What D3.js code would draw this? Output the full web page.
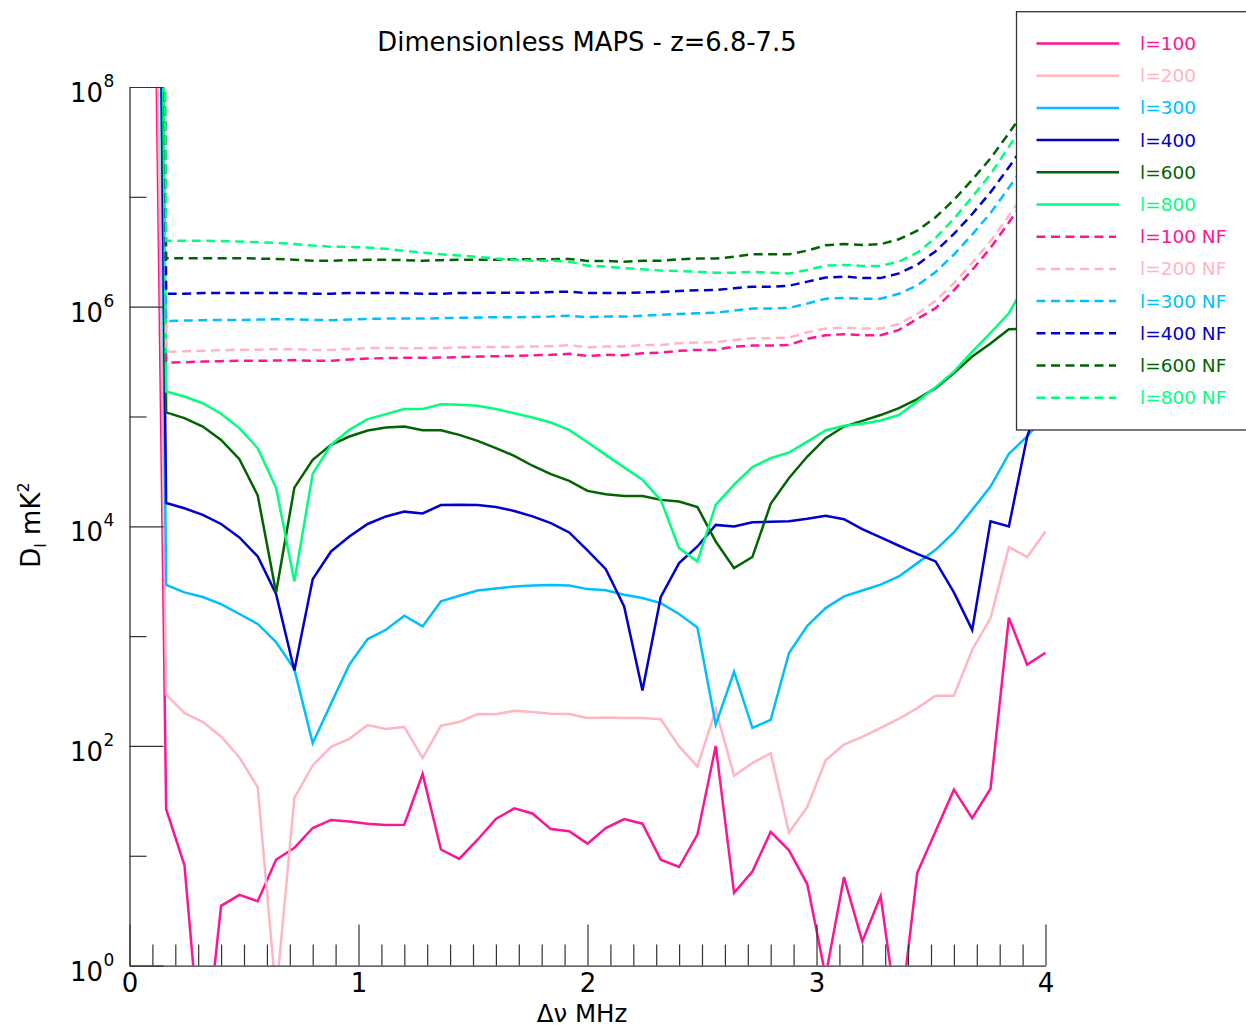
<!DOCTYPE html>
<html>
<head>
<meta charset="utf-8">
<script src="https://cdn.jsdelivr.net/npm/d3@7"></script>
<style>
  html, body { margin: 0; padding: 0; background: #fff; }
  svg { display: block; font-family: "DejaVu Sans", sans-serif; }
</style>
</head>
<body>
<svg id="chart" width="1246" height="1028"></svg>
<script>
// ---------------- DATA ----------------
const freqMHz = [0.08,0.16,0.24,0.32,0.40,0.48,0.56,0.64,0.72,0.80,0.88,0.96,1.04,1.12,1.20,1.28,1.36,1.44,1.52,1.60,
  1.68,1.76,1.84,1.92,2.00,2.08,2.16,2.24,2.32,2.40,2.48,2.56,2.64,2.72,2.80,2.88,2.96,3.04,3.12,3.20,
  3.28,3.36,3.44,3.52,3.60,3.68,3.76,3.84,3.92,4.00];

const l100 = [2e14,26.7,8.2,0.1,3.5,4.4,3.85,9.2,11.8,17.9,21.2,20.5,19.6,19.1,19.2,55.6,11.4,9.35,14.0,21.6,
  27.0,24.3,17.5,16.7,12.9,17.9,21.6,19.6,9.2,7.9,15.6,100,4.6,7.2,16.5,11.2,5.5,0.8,6.4,1.66,
  4.3,0.27,7.0,16.7,40,22,40.8,1470,550,706];
const l200 = [1e15,293,200,165,122,78.7,42,0.54,33.6,66.5,98,116,155,143,149,77.6,153,165,195,194,
  209,204,196,195,180,182,180,180,175,99,65,214,53.6,70,86,16.3,27.8,74,103,121,
  146,177,221,287,287,752,1460,6470,5250,8970];
const l300 = [1e20,2920,2500,2270,1960,1590,1290,883,501,106,243,549,940,1143,1532,1225,2070,2330,2600,2720,
  2830,2890,2920,2890,2680,2620,2380,2220,2000,1590,1200,156,474,146,173,702,1243,1800,2300,2600,
  2940,3490,4620,6110,8790,14100,23000,45700,65700,103000];
const l400 = [4e19,16300,14600,12700,10500,7910,5310,2420,487,3300,5900,8070,10500,12300,13600,13100,15600,15700,15600,15000,
  13800,12300,10700,8790,6030,4070,1860,320,2270,4620,6550,10300,9950,10900,11000,11100,11700,12500,11600,9430,
  7910,6650,5620,4790,2500,1140,11100,9960,65700,200000];
const l600 = [1e23,109000,96600,81000,61200,40800,19100,2500,22500,40300,55200,65700,74500,79300,81000,75000,75000,68000,60000,51500,
  43800,35600,29900,25900,21000,19600,18900,18900,17400,16800,15000,7270,4160,5250,16000,27500,43200,63400,81000,91200,
  103000,119000,144000,181000,248000,351000,461000,624000,630000,700000];
const l800 = [1e23,169000,152000,132000,106000,78300,51500,22500,3150,30100,55200,75500,94600,105000,117000,117000,129000,128000,125000,117000,
  107000,97700,88100,75500,58200,44700,34400,26500,17400,6330,4790,15700,23900,34600,41800,47000,59100,74500,82200,85700,
  91800,103000,137000,185000,256000,390000,577000,871000,1700000,3300000];

const l100NF = [1e30,3.10e5,3.12e5,3.16e5,3.19e5,3.21e5,3.21e5,3.23e5,3.26e5,3.21e5,3.21e5,3.30e5,3.37e5,3.40e5,3.42e5,3.42e5,3.44e5,3.47e5,3.51e5,3.54e5,
  3.56e5,3.61e5,3.64e5,3.72e5,3.56e5,3.64e5,3.61e5,3.77e5,3.82e5,3.96e5,4.04e5,4.04e5,4.33e5,4.42e5,4.42e5,4.48e5,5.09e5,5.50e5,5.61e5,5.50e5,
  5.50e5,6.14e5,7.74e5,9.68e5,1.41e6,2.16e6,3.43e6,5.83e6,1.02e7,1.79e7];
const l200NF = [1e30,3.87e5,3.93e5,3.96e5,4.01e5,4.04e5,4.06e5,4.10e5,4.10e5,4.04e5,4.04e5,4.12e5,4.19e5,4.21e5,4.19e5,4.19e5,4.21e5,4.24e5,4.27e5,4.30e5,
  4.30e5,4.33e5,4.36e5,4.46e5,4.27e5,4.33e5,4.33e5,4.46e5,4.48e5,4.65e5,4.71e5,4.75e5,4.98e5,5.16e5,5.16e5,5.23e5,5.85e5,6.31e5,6.44e5,6.31e5,
  6.31e5,6.96e5,8.59e5,1.13e6,1.64e6,2.50e6,3.96e6,6.73e6,1.17e7,2.08e7];
const l300NF = [1e30,7.38e5,7.47e5,7.53e5,7.57e5,7.57e5,7.62e5,7.69e5,7.69e5,7.57e5,7.53e5,7.62e5,7.74e5,7.79e5,7.79e5,7.79e5,7.85e5,7.91e5,7.95e5,8.02e5,
  8.02e5,8.07e5,8.12e5,8.28e5,8.02e5,8.12e5,8.12e5,8.28e5,8.41e5,8.59e5,8.71e5,8.83e5,9.20e5,9.60e5,9.60e5,9.75e5,1.07e6,1.18e6,1.20e6,1.18e6,
  1.18e6,1.31e6,1.56e6,2.07e6,2.98e6,4.53e6,7.13e6,1.21e7,2.09e7,3.68e7];
const l400NF = [1e30,1.31e6,1.31e6,1.33e6,1.33e6,1.33e6,1.33e6,1.33e6,1.33e6,1.31e6,1.31e6,1.33e6,1.33e6,1.33e6,1.33e6,1.31e6,1.31e6,1.33e6,1.33e6,1.34e6,
  1.34e6,1.34e6,1.36e6,1.37e6,1.33e6,1.33e6,1.33e6,1.35e6,1.36e6,1.39e6,1.41e6,1.42e6,1.47e6,1.52e6,1.52e6,1.55e6,1.69e6,1.84e6,1.88e6,1.82e6,
  1.82e6,2.01e6,2.41e6,3.20e6,4.59e6,6.98e6,1.10e7,1.86e7,3.22e7,5.68e7];
const l600NF = [1e30,2.76e6,2.76e6,2.76e6,2.76e6,2.76e6,2.74e6,2.72e6,2.68e6,2.62e6,2.62e6,2.65e6,2.67e6,2.67e6,2.65e6,2.62e6,2.65e6,2.67e6,2.67e6,2.68e6,
  2.70e6,2.70e6,2.70e6,2.72e6,2.61e6,2.61e6,2.57e6,2.62e6,2.62e6,2.70e6,2.74e6,2.74e6,2.85e6,3.00e6,3.00e6,3.00e6,3.24e6,3.62e6,3.72e6,3.65e6,
  3.70e6,4.11e6,4.92e6,6.52e6,9.37e6,1.43e7,2.24e7,3.79e7,6.58e7,1.16e8];
const l800NF = [1e30,3.99e6,3.99e6,3.99e6,3.96e6,3.91e6,3.86e6,3.80e6,3.72e6,3.60e6,3.52e6,3.50e6,3.45e6,3.36e6,3.22e6,3.10e6,3.00e6,2.92e6,2.84e6,2.74e6,
  2.67e6,2.62e6,2.62e6,2.57e6,2.36e6,2.32e6,2.24e6,2.19e6,2.13e6,2.11e6,2.08e6,2.04e6,2.04e6,2.07e6,2.04e6,2.00e6,2.16e6,2.36e6,2.40e6,2.35e6,
  2.35e6,2.57e6,3.10e6,4.23e6,6.30e6,9.98e6,1.61e7,2.84e7,5.24e7,9.61e7];

const seriesNames = ["l=100","l=200","l=300","l=400","l=600","l=800",
                     "l=100 NF","l=200 NF","l=300 NF","l=400 NF","l=600 NF","l=800 NF"];
const seriesValues = [l100,l200,l300,l400,l600,l800,l100NF,l200NF,l300NF,l400NF,l600NF,l800NF];
const seriesColors = ["#ff1493","#ffb6c1","#00bfff","#0000cd","#006400","#00ff7f",
                      "#ff1493","#ffb6c1","#00bfff","#0000cd","#006400","#00ff7f"];
const seriesDashed = [false,false,false,false,false,false,true,true,true,true,true,true];

const xMajorTicks = [0,1,2,3,4];
const xMinorTicks = [0.1,0.2,0.3,0.4,0.5,0.6,0.7,0.8,0.9,1.1,1.2,1.3,1.4,1.5,1.6,1.7,1.8,1.9,
  2.1,2.2,2.3,2.4,2.5,2.6,2.7,2.8,2.9,3.1,3.2,3.3,3.4,3.5,3.6,3.7,3.8,3.9];
const yMajorTicks = [1,1e2,1e4,1e6,1e8];
const yMajorExp = ["0","2","4","6","8"];
const yMinorTicks = [1e1,1e3,1e5,1e7];

const titleText = "Dimensionless MAPS - z=6.8-7.5";

// ---------------- LAYOUT ----------------
const svg = d3.select("#chart");
const X0 = 129.5, X1 = 1045.5, YB = 965.6, YT = 87;
const x = d3.scaleLinear().domain([0,4]).range([X0, X1]);
const y = d3.scaleLog().domain([1,1e8]).range([YB, YT]);
const axisColor = "#333";

svg.append("defs").append("clipPath").attr("id","plotclip")
  .append("rect").attr("x", X0).attr("y", YT).attr("width", X1 - X0 + 2).attr("height", YB - YT);

// title
svg.append("text").attr("x", 587).attr("y", 51).attr("text-anchor","middle")
  .attr("font-size", 25.8).attr("fill","#000").text(titleText);

// lines
const line = d3.line().x((d,i) => x(freqMHz[i])).y(d => y(d));
const gLines = svg.append("g").attr("clip-path","url(#plotclip)");
seriesValues.forEach((vals, si) => {
  gLines.append("path").datum(vals)
    .attr("d", line)
    .attr("fill","none")
    .attr("stroke", seriesColors[si])
    .attr("stroke-width", 2.5)
    .attr("stroke-linejoin","miter")
    .attr("stroke-dasharray", seriesDashed[si] ? "9,5.5" : null);
});

// axes
function styleAxis(g){
  g.selectAll("path.domain").attr("stroke", axisColor).attr("stroke-width", 1.3);
  g.selectAll(".tick line").attr("stroke", axisColor).attr("stroke-width", 1.2);
}
// y axis
const gyMajor = svg.append("g").attr("transform", `translate(${X0},0)`)
  .call(d3.axisLeft(y).tickValues(yMajorTicks).tickSizeInner(-34).tickSizeOuter(0).tickFormat(""));
styleAxis(gyMajor);
const gyMinor = svg.append("g").attr("transform", `translate(${X0},0)`)
  .call(d3.axisLeft(y).tickValues(yMinorTicks).tickSizeInner(-17).tickSizeOuter(0).tickFormat(""));
styleAxis(gyMinor);
gyMinor.select("path.domain").remove();

// y tick labels 10^n
yMajorTicks.forEach((v, i) => {
  const yy = y(v);
  svg.append("text").attr("x", 103).attr("y", yy + 15).attr("text-anchor","end")
    .attr("font-size", 26).attr("fill","#000").text("10");
  svg.append("text").attr("x", 103.5).attr("y", yy).attr("text-anchor","start")
    .attr("font-size", 17).attr("fill","#000").text(yMajorExp[i]);
});

// x axis
const gxMajor = svg.append("g").attr("transform", `translate(0,${YB})`)
  .call(d3.axisBottom(x).tickValues(xMajorTicks).tickSizeInner(-41).tickSizeOuter(0).tickPadding(8)
    .tickFormat(d3.format("d")));
styleAxis(gxMajor);
gxMajor.selectAll("text").attr("font-size", 26).attr("fill","#000")
  .attr("font-family","DejaVu Sans, sans-serif");
const gxMinor = svg.append("g").attr("transform", `translate(0,${YB})`)
  .call(d3.axisBottom(x).tickValues(xMinorTicks).tickSizeInner(-21).tickSizeOuter(0).tickFormat(""));
styleAxis(gxMinor);
gxMinor.select("path.domain").remove();

// x axis label
svg.append("text").attr("x", 582).attr("y", 1022).attr("text-anchor","middle")
  .attr("font-size", 24.5).attr("fill","#000").text("Δν MHz");

// y axis label
const yl = svg.append("text").attr("transform","translate(40,525) rotate(-90)")
  .attr("text-anchor","middle").attr("font-size", 26).attr("fill","#000");
yl.append("tspan").text("D");
yl.append("tspan").attr("font-size", 16).attr("dy", 6).text("l");
yl.append("tspan").attr("dy", -6).text(" mK");
yl.append("tspan").attr("font-size", 16).attr("dy", -11).text("2");

// legend
const legend = svg.append("g");
legend.append("rect").attr("x", 1016.5).attr("y", 11.7).attr("width", 240).attr("height", 418.3)
  .attr("fill","#fff").attr("stroke","#333").attr("stroke-width", 1.3);
seriesNames.forEach((name, i) => {
  const ly = 43.5 + i * 32.2;
  legend.append("line").attr("x1", 1036.5).attr("x2", seriesDashed[i] ? 1116 : 1119)
    .attr("y1", ly).attr("y2", ly)
    .attr("stroke", seriesColors[i]).attr("stroke-width", 2.5)
    .attr("stroke-dasharray", seriesDashed[i] ? "9,5.5" : null);
  legend.append("text").attr("x", 1140).attr("y", ly).attr("dy", "0.35em")
    .attr("font-size", 18.5).attr("fill", seriesColors[i]).text(name);
});
</script>
</body>
</html>
